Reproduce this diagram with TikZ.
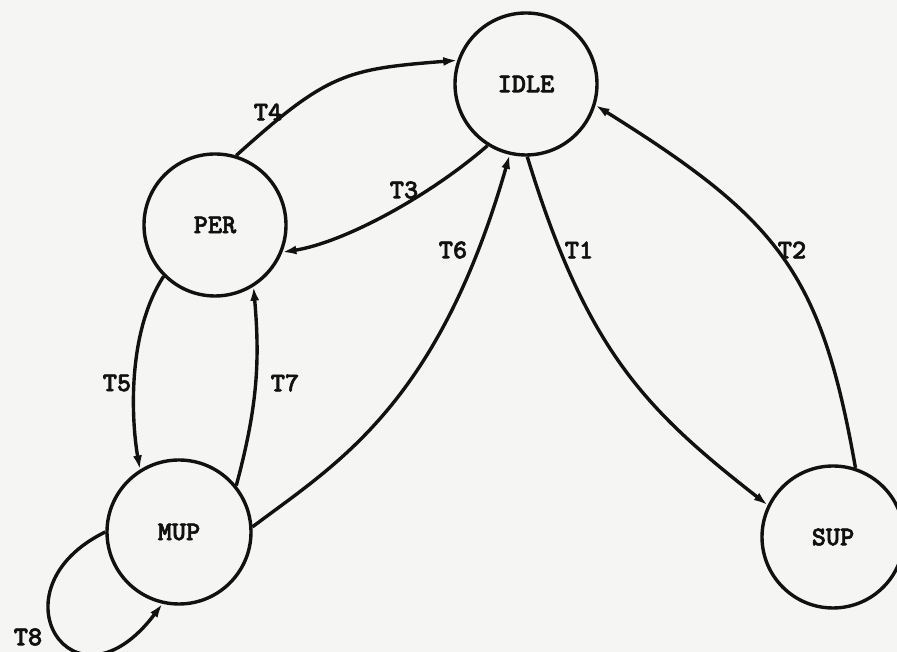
\documentclass[tikz,border=0pt]{standalone}
\usepackage{fontspec}
\newfontfamily\typewriter{lmmonolt10-bold.otf}[FakeBold=2.2]
\usetikzlibrary{arrows.meta}
\definecolor{paper}{HTML}{F5F5F3}
\definecolor{ink}{HTML}{111111}
\begin{document}
\begin{tikzpicture}[x=1pt,y=1pt,
  typed/.style={text=ink, font=\typewriter\fontsize{27}{29}\selectfont},
  state/.style={typed, circle, draw=ink, line width=3.4pt, minimum size=142pt, inner sep=0pt},
  trans/.style={draw=ink, line width=3.4pt, -{Latex[length=14pt,width=9pt]}},
  tlabel/.style={typed, inner sep=0pt}]

% sheet
\fill[paper] (0,0) rectangle (897,652);
\useasboundingbox (0,0) rectangle (897,652);

% states
\node[state] (idle) at (526,568) {IDLE};
\node[state] (per)  at (215,427) {PER};
\node[state, minimum size=144pt] (mup) at (179,120) {MUP};
\node[state] (sup)  at (833,115) {SUP};

% transitions
\draw[trans] (per.73)   .. controls +(42:123)  and +(184.5:112) .. (idle.161);
\draw[trans] (idle.-122).. controls +(221:78)  and +(9:62)      .. (per.-22);
\draw[trans] (mup.4)    .. controls +(37:105)  and +(254:261)   .. (idle.-103);
\draw[trans] (idle.-89) .. controls +(-73:203) and +(142:155)   .. (sup.154);
\draw[trans] (sup.72)   .. controls +(100:198) and +(-32:217)   .. (idle.-17);
\draw[trans] (per.-135) .. controls +(237:69)  and +(100:47)    .. (mup.122);
\draw[trans] (mup.39)   .. controls +(75:82)   and +(-85:75)    .. (per.-58);
\draw[trans] (mup.180)  .. controls +(206:130) and +(233:148)   .. (mup.-103);

% transition labels
\node[tlabel] (t4) at (268,540) {T4};
\node[tlabel] (t3) at (404,462) {T3};
\node[tlabel] (t6) at (453,402) {T6};
\node[tlabel] (t1) at (579,402) {T1};
\node[tlabel] (t2) at (792,402) {T2};
\node[tlabel] (t5) at (117,269) {T5};
\node[tlabel] (t7) at (285,269) {T7};
\node[tlabel] (t8) at (28,15)   {T8};
\end{tikzpicture}
\end{document}
